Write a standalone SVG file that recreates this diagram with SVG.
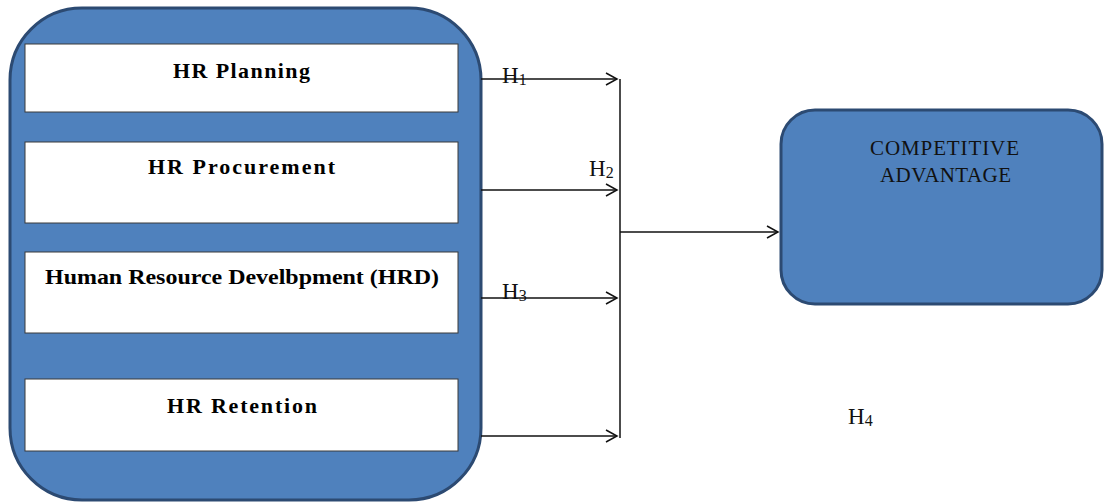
<svg xmlns="http://www.w3.org/2000/svg" width="1104" height="503" viewBox="0 0 1104 503">
<style>
.big{fill:#4f81bd;stroke:#2c4a72;stroke-width:3}
.inner{fill:#ffffff;stroke:#3b3b3b;stroke-width:1}
.lbl{font-family:"Liberation Serif","DejaVu Serif",serif;font-weight:bold;font-size:22px;fill:#000;text-anchor:middle}
.ca{font-family:"Liberation Serif","DejaVu Serif",serif;font-size:21px;fill:#111;text-anchor:middle}
.h{font-family:"Liberation Serif","DejaVu Serif",serif;font-size:23px;fill:#111}
.conn{stroke:#111;stroke-width:1.5;fill:none}
</style>
<defs>
<marker id="arr" markerWidth="14" markerHeight="14" refX="12" refY="7" orient="auto" markerUnits="userSpaceOnUse">
<path d="M1,1 L12,7 L1,13" fill="none" stroke="#111" stroke-width="1.5"/>
</marker>
</defs>
<g id="hr-group">
<rect class="big" x="10" y="8" width="471" height="492" rx="72" ry="72"/>
</g>
<g id="hr-planning">
<rect class="inner" x="25" y="44" width="433" height="68"/>
<text class="lbl" x="241.5" y="78" textLength="137" lengthAdjust="spacing">HR Planning</text>
</g>
<g id="hr-procurement">
<rect class="inner" x="25" y="142" width="433" height="81"/>
<text class="lbl" x="241.5" y="174" textLength="187" lengthAdjust="spacing">HR Procurement</text>
</g>
<g id="hrd">
<rect class="inner" x="25" y="252" width="433" height="81"/>
<text class="lbl" x="242" y="284" textLength="394" lengthAdjust="spacingAndGlyphs">Human Resource Develbpment (HRD)</text>
</g>
<g id="hr-retention">
<rect class="inner" x="25" y="379" width="433" height="72"/>
<text class="lbl" x="242" y="413" textLength="150" lengthAdjust="spacing">HR Retention</text>
</g>
<g id="competitive-advantage">
<rect class="big" x="781" y="110" width="321" height="194" rx="34" ry="34"/>
<text class="ca" x="944.5" y="155" textLength="149" lengthAdjust="spacing">COMPETITIVE</text>
<text class="ca" x="945.5" y="182" textLength="131" lengthAdjust="spacing">ADVANTAGE</text>
</g>
<g id="connectors">
<line class="conn" x1="481" y1="79" x2="617" y2="79" marker-end="url(#arr)"/>
<line class="conn" x1="481" y1="190" x2="617" y2="190" marker-end="url(#arr)"/>
<line class="conn" x1="481" y1="298" x2="617" y2="298" marker-end="url(#arr)"/>
<line class="conn" x1="481" y1="436" x2="617" y2="436" marker-end="url(#arr)"/>
<line class="conn" x1="620" y1="79" x2="620" y2="438"/>
<line class="conn" x1="620" y1="232" x2="778" y2="232" marker-end="url(#arr)"/>
</g>
<g id="labels">
<text class="h" x="502" y="83">H<tspan font-size="16" dy="2">1</tspan></text>
<text class="h" x="589" y="176">H<tspan font-size="16" dy="2">2</tspan></text>
<text class="h" x="502" y="299">H<tspan font-size="16" dy="2">3</tspan></text>
<text class="h" x="848" y="424">H<tspan font-size="16" dy="2">4</tspan></text>
</g>
</svg>
